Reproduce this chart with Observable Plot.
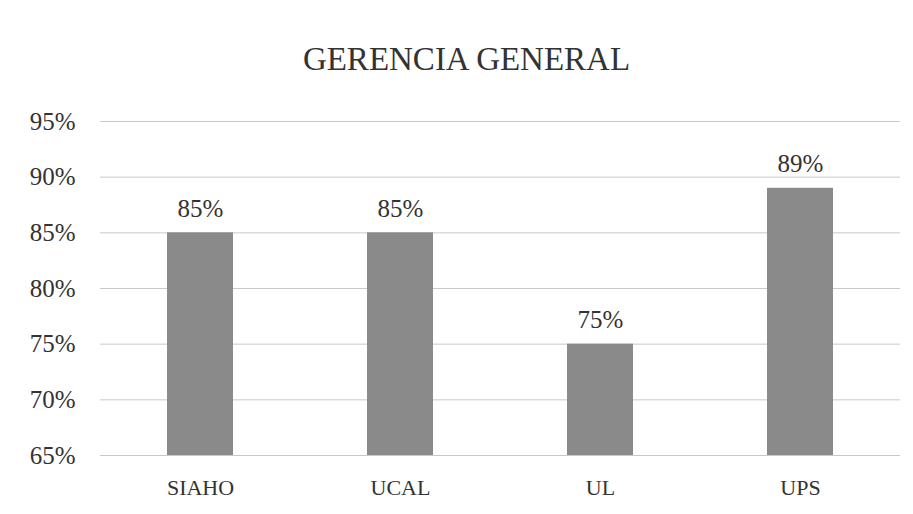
<!DOCTYPE html>
<html>
<head>
<meta charset="utf-8">
<script src="https://cdn.jsdelivr.net/npm/d3@7"></script>
<script src="https://cdn.jsdelivr.net/npm/@observablehq/plot@0.6"></script>
<style>
  body { margin: 0; background: #fff; width: 913px; height: 514px; overflow: hidden; }
  #title { height: 90px; line-height: 118px; text-align: center; font-family: "Liberation Serif", "DejaVu Serif", serif; font-size: 33px; color: #333; padding-left: 20px; box-sizing: border-box; }
  svg { display: block; }
</style>
</head>
<body>
<div id="title">GERENCIA GENERAL</div>
<div id="chart"></div>
<script>
const categories = ["SIAHO", "UCAL", "UL", "UPS"];
const values = [85, 85, 75, 89];
const yTicks = [65, 70, 75, 80, 85, 90, 95];

const data = categories.map((c, i) => ({ cat: c, v: values[i] }));

const chart = Plot.plot({
  width: 913,
  height: 424,
  marginTop: 31,
  marginBottom: 59,
  marginLeft: 100,
  marginRight: 13,
  style: { fontFamily: "Liberation Serif, DejaVu Serif, serif", color: "#333", background: "#fff" },
  x: { domain: categories, paddingInner: 0.67, paddingOuter: 0.335, label: null },
  y: { domain: [65, 95], ticks: yTicks, label: null },
  marks: [
    Plot.gridY(yTicks, { stroke: "#c8c8c8", strokeOpacity: 1 }),
    Plot.axisY({ ticks: yTicks, tickSize: 0, tickPadding: 25, fontSize: 25, tickFormat: d => d + "%", label: null }),
    Plot.axisX({ tickSize: 0, tickPadding: 24, fontSize: 22, label: null }),
    Plot.barY(data, { x: "cat", y1: () => 65, y2: "v", fill: "#8a8a8a" }),
    Plot.text(data, { x: "cat", y: "v", text: d => d.v + "%", dy: -24, fontSize: 25, fill: "#333" })
  ]
});
document.getElementById("chart").appendChild(chart);
</script>
</body>
</html>
